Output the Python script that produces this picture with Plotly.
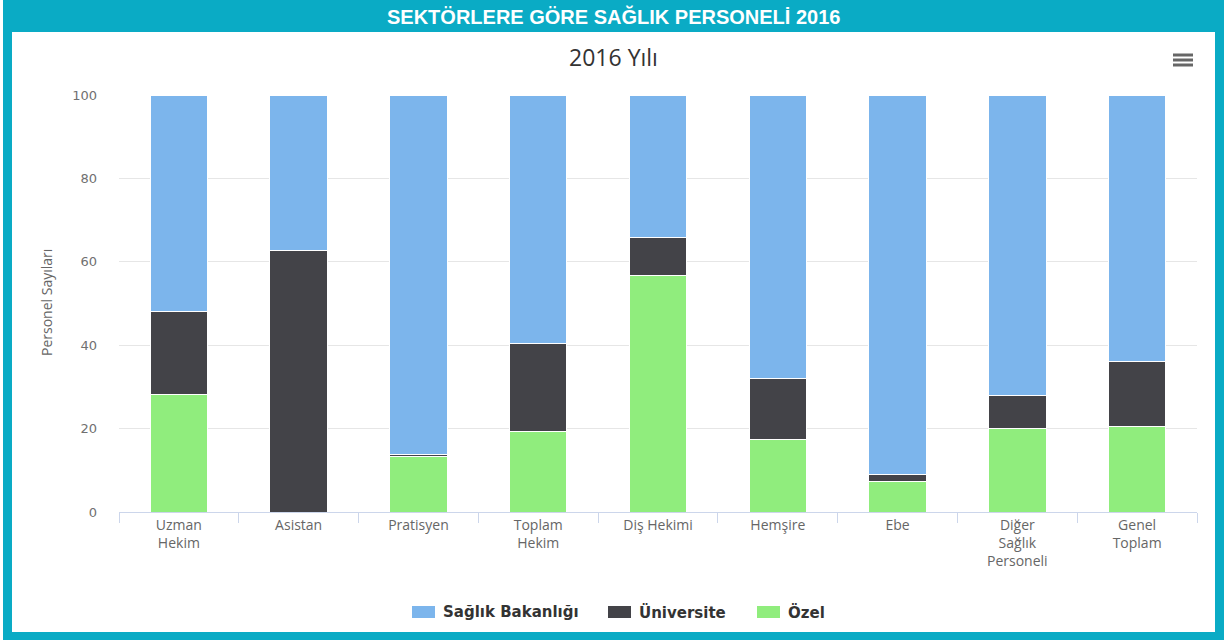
import plotly.graph_objects as go

# Categories (line breaks as shown under the axis)
categories = ["Uzman<br>Hekim", "Asistan", "Pratisyen", "Toplam<br>Hekim", "Diş Hekimi",
              "Hemşire", "Ebe", "Diğer<br>Sağlık<br>Personeli", "Genel<br>Toplam"]

# Share of personnel by sector (%)
ozel = [28.1, 0.0, 13.3, 19.2, 56.7, 17.5, 7.4, 20.1, 20.5]
universite = [20.1, 62.8, 0.4, 21.2, 9.1, 14.6, 1.6, 7.8, 15.5]
saglik_bakanligi = [51.8, 37.2, 86.3, 59.6, 34.2, 67.9, 91.0, 72.1, 64.0]

y_ticks = [0, 20, 40, 60, 80, 100]

W, H = 1227, 642
L, R, T, B = 119, 1197, 95, 512   # plot area in pixels
TEAL = "#0aabc5"


def px(x):
    return (x - L) / (R - L)


def py(y):
    return (B - y) / (B - T)


fig = go.Figure()
series = [("Özel", ozel, "#90ed7d"),
          ("Üniversite", universite, "#434348"),
          ("Sağlık Bakanlığı", saglik_bakanligi, "#7cb5ec")]
for name, vals, color in series:
    fig.add_trace(go.Bar(
        x=categories, y=vals, name=name, showlegend=False,
        marker=dict(color=color, line=dict(color="white", width=1)),
    ))

shapes = [
    # frame: header strip and side/bottom borders
    dict(type="rect", xref="paper", yref="paper", x0=px(3), x1=px(1224), y0=py(0), y1=py(32),
         fillcolor=TEAL, line_width=0, layer="below"),
    dict(type="rect", xref="paper", yref="paper", x0=px(3), x1=px(12), y0=py(0), y1=py(640),
         fillcolor=TEAL, line_width=0, layer="below"),
    dict(type="rect", xref="paper", yref="paper", x0=px(1215), x1=px(1224), y0=py(0), y1=py(640),
         fillcolor=TEAL, line_width=0, layer="below"),
    dict(type="rect", xref="paper", yref="paper", x0=px(3), x1=px(1224), y0=py(632), y1=py(640),
         fillcolor=TEAL, line_width=0, layer="below"),
]
# menu (hamburger) icon
for yy in (55, 60, 65):
    shapes.append(dict(type="line", xref="paper", yref="paper", x0=px(1173), x1=px(1193),
                       y0=py(yy), y1=py(yy), line=dict(color="#666666", width=3)))

annotations = [
    dict(text="<b>SEKTÖRLERE GÖRE SAĞLIK PERSONELİ 2016</b>", xref="paper", yref="paper",
         x=px(613), y=py(16), showarrow=False, xanchor="center", yanchor="middle",
         font=dict(family="Liberation Sans, Arial", size=20, color="white")),
    dict(text="Personel Sayıları", xref="paper", yref="paper", x=px(46), y=py(303),
         showarrow=False, textangle=-90, xanchor="center", yanchor="middle",
         font=dict(family="Open Sans", size=14, color="#666666")),
]

# legend row: swatch + bold label for each series, top series first
legend_items = [("Sağlık Bakanlığı", "#7cb5ec", 412),
                ("Üniversite", "#434348", 608),
                ("Özel", "#90ed7d", 757)]
LEG_Y = 612
for label, color, x0 in legend_items:
    shapes.append(dict(type="rect", xref="paper", yref="paper",
                       x0=px(x0), x1=px(x0 + 23), y0=py(LEG_Y - 6), y1=py(LEG_Y + 6),
                       fillcolor=color, line_width=0))
    annotations.append(dict(text=f"<b>{label}</b>", xref="paper", yref="paper",
                            x=px(x0 + 29), y=py(LEG_Y), showarrow=False,
                            xanchor="left", yanchor="middle",
                            font=dict(family="DejaVu Sans", size=15, color="#333333")))

fig.update_layout(
    width=W, height=H,
    margin=dict(l=L, r=W - R, t=T, b=H - B),
    barmode="stack",
    bargap=0.52,
    paper_bgcolor="white",
    plot_bgcolor="white",
    showlegend=False,
    title=dict(text="2016 Yılı", x=0.5, xref="container", xanchor="center",
               y=1 - 58 / H, yref="container", yanchor="middle",
               font=dict(family="Open Sans", size=23, color="#333333")),
    xaxis=dict(showline=True, linecolor="#ccd6eb", linewidth=1, ticks="outside", ticklen=10,
               tickcolor="#ccd6eb", tickson="boundaries", showgrid=False,
               tickfont=dict(family="Open Sans", size=14, color="#666666")),
    yaxis=dict(range=[0, 100], tickvals=y_ticks, showgrid=True, gridcolor="#e6e6e6",
               zeroline=False, showline=False, ticklabelstandoff=21,
               tickfont=dict(family="DejaVu Sans", size=13, color="#707070")),
    shapes=shapes,
    annotations=annotations,
)

fig.write_html("out.html")
